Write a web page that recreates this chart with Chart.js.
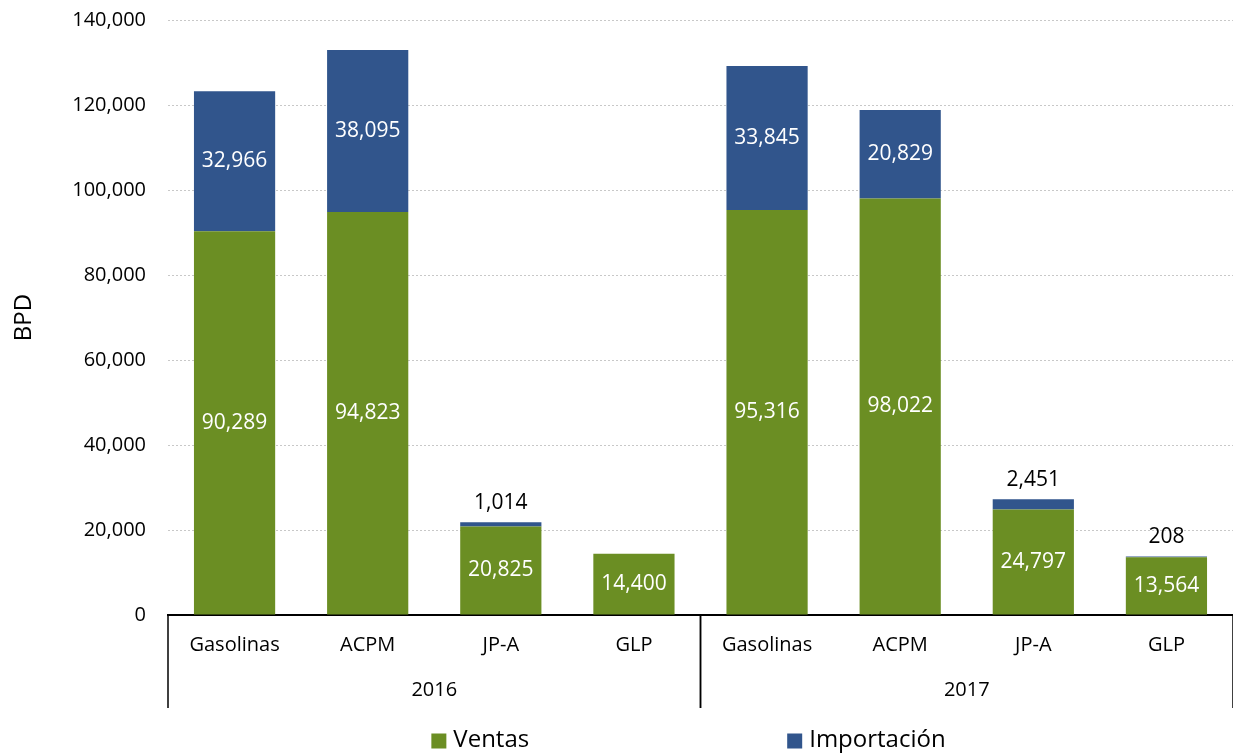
<!DOCTYPE html>
<html>
<head>
<meta charset="utf-8">
<script src="https://cdn.jsdelivr.net/npm/chart.js@4.4.0/dist/chart.umd.min.js"></script>
<style>
  html, body { margin: 0; padding: 0; background: #fff; }
  #wrap { width: 1233px; height: 753px; }
</style>
</head>
<body>
<div id="wrap"><canvas id="chart"></canvas></div>
<script>
const categories = ['Gasolinas', 'ACPM', 'JP-A', 'GLP', 'Gasolinas', 'ACPM', 'JP-A', 'GLP'];
const years = ['2016', '2017'];
const ventas = [90289, 94823, 20825, 14400, 95316, 98022, 24797, 13564];
const importacion = [32966, 38095, 1014, 0, 33845, 20829, 2451, 208];
const yTicks = [0, 20000, 40000, 60000, 80000, 100000, 120000, 140000];

const FONT = '"Open Sans", "DejaVu Sans", sans-serif';
const GREEN = '#6b8e23';
const BLUE = '#31558c';

const fmt = v => v.toLocaleString('en-US');

// Etiquetas de valores sobre/dentro de las barras
const valueLabels = {
    id: 'valueLabels',
    afterDatasetsDraw(chart) {
        const ctx = chart.ctx;
        ctx.save();
        ctx.font = '21px ' + FONT;
        ctx.textAlign = 'center';
        ctx.textBaseline = 'middle';
        chart.data.datasets.forEach((ds, i) => {
            chart.getDatasetMeta(i).data.forEach((bar, j) => {
                const v = ds.data[j];
                if (!v) return;
                if (v >= 5000) {
                    ctx.fillStyle = '#ffffff';
                    ctx.fillText(fmt(v), bar.x, (bar.y + bar.base) / 2);
                } else {
                    ctx.fillStyle = '#000000';
                    ctx.fillText(fmt(v), bar.x, bar.y - 19);
                }
            });
        });
        ctx.restore();
    }
};

// Eje de años y separadores
const yearAxis = {
    id: 'yearAxis',
    afterDraw(chart) {
        const ctx = chart.ctx;
        const x = chart.scales.x;
        const bottom = chart.chartArea.bottom;
        const per = categories.length / years.length;
        const half = (x.getPixelForValue(1) - x.getPixelForValue(0)) / 2;
        ctx.save();
        ctx.strokeStyle = '#000';
        ctx.lineWidth = 1.5;
        ctx.font = '20px ' + FONT;
        ctx.fillStyle = '#000';
        ctx.textAlign = 'center';
        ctx.textBaseline = 'middle';
        years.forEach((yr, k) => {
            const left = x.getPixelForValue(k * per) - half;
            const right = x.getPixelForValue(k * per + per - 1) + half;
            [left, right].forEach(px => {
                ctx.beginPath();
                ctx.moveTo(px, bottom);
                ctx.lineTo(px, bottom + 93);
                ctx.stroke();
            });
            ctx.fillText(yr, (left + right) / 2, bottom + 75);
        });
        ctx.restore();
    }
};

// Leyenda inferior
const bottomLegend = {
    id: 'bottomLegend',
    afterDraw(chart) {
        const ctx = chart.ctx;
        const items = chart.data.datasets.map(ds => ({ text: ds.label, color: ds.backgroundColor }));
        const box = 15, gap = 7, itemGap = 258;
        ctx.save();
        ctx.font = '24px ' + FONT;
        ctx.textBaseline = 'middle';
        const widths = items.map(it => box + gap + ctx.measureText(it.text).width);
        const total = widths.reduce((a, b) => a + b, 0) + itemGap * (items.length - 1);
        const ca = chart.chartArea;
        let px = (ca.left + ca.right) / 2 - total / 2 - 12;
        const py = chart.height - 13;
        items.forEach((it, k) => {
            ctx.fillStyle = it.color;
            ctx.fillRect(px, py - box / 2 + 1, box, box);
            ctx.fillStyle = '#000';
            ctx.fillText(it.text, px + box + gap, py);
            px += widths[k] + itemGap;
        });
        ctx.restore();
    }
};

new Chart(document.getElementById('chart'), {
    type: 'bar',
    data: {
        labels: categories,
        datasets: [
            { label: 'Ventas', data: ventas, backgroundColor: GREEN },
            { label: 'Importación', data: importacion, backgroundColor: BLUE }
        ]
    },
    options: {
        responsive: true,
        maintainAspectRatio: false,
        animation: false,
        layout: { padding: { top: 20, right: 0, left: 10, bottom: 0 } },
        datasets: {
            bar: { categoryPercentage: 1, barPercentage: 0.61, borderWidth: 0 }
        },
        plugins: {
            legend: { display: false },
            tooltip: { enabled: false }
        },
        scales: {
            x: {
                stacked: true,
                grid: { display: false, drawTicks: false },
                border: { display: true, color: '#000', width: 2 },
                ticks: { color: '#000', font: { family: FONT, size: 20 }, padding: 18 },
                afterFit: s => { s.height = 138; }
            },
            y: {
                stacked: true,
                min: 0,
                max: 140000,
                afterBuildTicks: s => { s.ticks = yTicks.map(v => ({ value: v })); },
                grid: { color: '#c8c8c8', lineWidth: 1, drawTicks: false },
                border: { display: false, dash: [2, 2] },
                ticks: {
                    color: '#000',
                    font: { family: FONT, size: 20 },
                    padding: 22,
                    callback: v => fmt(v)
                },
                title: {
                    display: true,
                    text: 'BPD',
                    color: '#000',
                    font: { family: FONT, size: 24 },
                    padding: 0
                },
                afterFit: s => {
                    s.width = 158;
                    s.paddingTop = 0;
                    s.paddingBottom = 0;
                }
            }
        }
    },
    plugins: [valueLabels, yearAxis, bottomLegend]
});
</script>
</body>
</html>
